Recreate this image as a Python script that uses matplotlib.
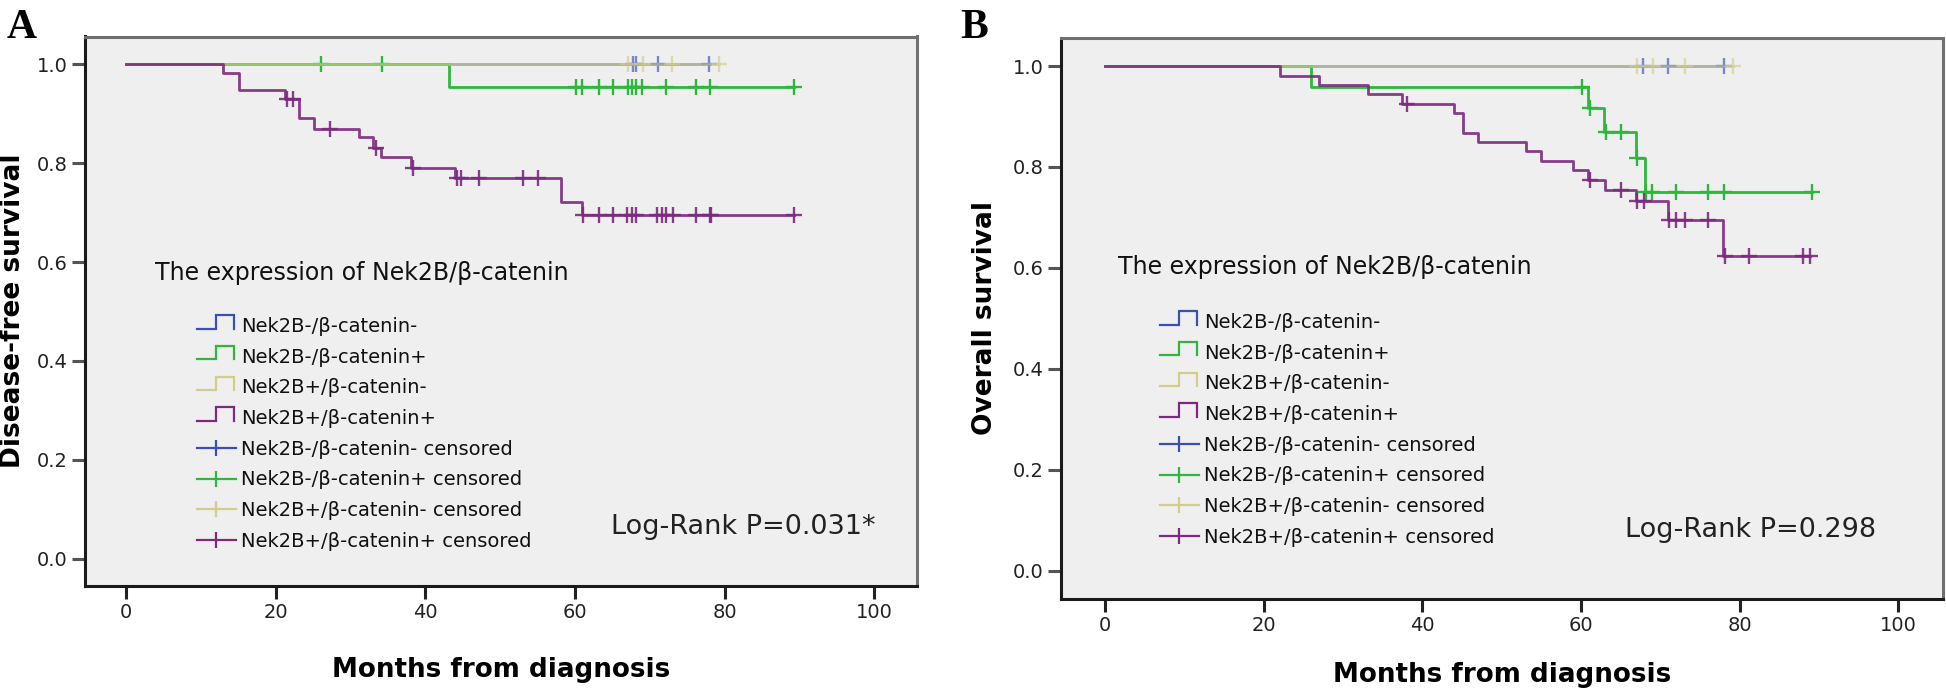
import numpy as np
import matplotlib
matplotlib.use("Agg")
import matplotlib.pyplot as plt
from matplotlib.lines import Line2D
from matplotlib.legend_handler import HandlerBase

# ---------------- data ----------------
group_labels = ["Nek2B-/β-catenin-", "Nek2B-/β-catenin+",
                "Nek2B+/β-catenin-", "Nek2B+/β-catenin+"]
censored_labels = [g + " censored" for g in group_labels]
legend_title = "The expression of Nek2B/β-catenin"
x_ticks = [0, 20, 40, 60, 80, 100]
y_ticks = [0.0, 0.2, 0.4, 0.6, 0.8, 1.0]

# Panel A: disease-free survival (step times / survival / censored times)
dfs_nn_times = [0, 78.0]
dfs_nn_surv = [1.0, 1.0]
dfs_nn_cens = [67.8, 68.2, 71.1, 77.9]
dfs_np_times = [0, 43.1, 89.2]
dfs_np_surv = [1.0, 0.955, 0.955]
dfs_np_cens = [26.1, 34.2, 60.1, 60.9, 63.2, 65.1, 67.1, 67.6, 68.1, 69.0,
               72.1, 76.2, 78.0, 89.2]
dfs_pn_times = [0, 79.2]
dfs_pn_surv = [1.0, 1.0]
dfs_pn_cens = [67.1, 69.1, 73.0, 79.2]
dfs_pp_times = [0, 13.0, 15.1, 21.2, 23.1, 25.1, 31.1, 33.0, 34.1, 38.1,
                44.0, 58.1, 60.9, 89.2]
dfs_pp_surv = [1.0, 0.982, 0.947, 0.929, 0.891, 0.870, 0.852, 0.831, 0.812,
               0.791, 0.771, 0.721, 0.695, 0.695]
dfs_pp_cens = [21.5, 22.3, 27.2, 33.4, 38.3, 44.2, 44.8, 47.1, 53.1, 55.1,
               61.1, 63.2, 65.1, 67.0, 67.6, 68.1, 71.0, 71.6, 72.2, 73.1,
               76.1, 78.0, 78.2, 89.2]
dfs_p_text = "Log-Rank P=0.031*"

# Panel B: overall survival
os_nn_times = [0, 78.0]
os_nn_surv = [1.0, 1.0]
os_nn_cens = [67.8, 71.0, 78.0]
os_np_times = [0, 25.9, 60.9, 62.9, 66.9, 68.0, 89.1]
os_np_surv = [1.0, 0.959, 0.916, 0.869, 0.818, 0.750, 0.750]
os_np_cens = [60.1, 61.1, 63.1, 65.0, 67.1, 68.2, 69.0, 72.0, 76.0, 78.0, 89.1]
os_pn_times = [0, 79.1]
os_pn_surv = [1.0, 1.0]
os_pn_cens = [67.0, 69.1, 73.1, 79.1]
os_pp_times = [0, 22.05, 27.0, 33.1, 37.4, 44.0, 45.1, 47.0, 53.1, 55.0,
               59.0, 60.9, 63.0, 66.9, 70.9, 77.9, 88.9]
os_pp_surv = [1.0, 0.980, 0.962, 0.944, 0.925, 0.906, 0.868, 0.850, 0.832,
              0.812, 0.793, 0.774, 0.754, 0.733, 0.694, 0.624, 0.624]
os_pp_cens = [38.0, 61.1, 65.0, 67.1, 67.9, 71.1, 72.0, 73.1, 76.0, 78.1,
              81.1, 88.0, 88.9]
os_p_text = "Log-Rank P=0.298"

# ---------------- style ----------------
colors = ["#3a4fb5", "#2db83d", "#d2cd8c", "#7b2a7e"]
alphas = [0.65, 1.0, 0.65, 0.9]
draw_order = [0, 2, 1, 3]
W, H = 1946, 695
plt.rcParams["font.family"] = ["DejaVu Sans"]

fig = plt.figure(figsize=(W / 100, H / 100), dpi=100)
fig.patch.set_facecolor("white")


def fx(px):
    return px / W


def fy(py):
    return (H - py) / H


class StepHandler(HandlerBase):
    def create_artists(self, legend, orig_handle, xdescent, ydescent,
                       width, height, fontsize, trans):
        x0 = -xdescent
        yc = -ydescent + height / 2
        lo = yc - 0.25 * height
        hi = yc + 0.72 * height
        xs = [x0, x0 + 0.5 * width, x0 + 0.5 * width, x0 + 0.96 * width,
              x0 + 0.96 * width]
        ys = [lo, lo, hi, hi, lo]
        ln = Line2D(xs, ys, color=orig_handle.get_color(),
                    lw=orig_handle.get_linewidth(), solid_joinstyle="miter")
        ln.set_transform(trans)
        return [ln]


def step_value(times, surv, t):
    idx = np.searchsorted(np.asarray(times), np.asarray(t), side="right") - 1
    return np.asarray(surv)[idx]


def panel(rect_px, series, xlim, ylim, ylabel, xlabel_y, ylabel_x,
          title_px, legend_px, ptext, ptext_px):
    l, t, r, b = rect_px
    ax = fig.add_axes([fx(l), fy(b), fx(r - l), (b - t) / H])
    ax.set_facecolor("#efefef")
    for i in draw_order:
        times, surv, cens = series[i]
        ax.step(times, surv, where="post", color=colors[i], lw=2.0,
                alpha=alphas[i], zorder=2 + i * 0.1)
        ax.plot(cens, step_value(times, surv, cens), ls="none", marker="+",
                ms=11, mew=1.7, color=colors[i], alpha=alphas[i],
                zorder=2.05 + i * 0.1)
    ax.set_xlim(*xlim)
    ax.set_ylim(*ylim)
    ax.set_xticks(x_ticks)
    ax.set_xticklabels([str(v) for v in x_ticks])
    ax.set_yticks(y_ticks)
    ax.set_yticklabels([f"{v:.1f}" for v in y_ticks])
    ax.tick_params(axis="x", direction="out", length=9.5, width=2.2,
                   color="#222222", labelsize=14, pad=3, labelcolor="#222222")
    ax.tick_params(axis="y", direction="out", length=9.5, width=2.2,
                   color="#555555", labelsize=14, pad=3, labelcolor="#222222")
    for s in ("left", "bottom"):
        ax.spines[s].set_color("#1a1a1a")
        ax.spines[s].set_linewidth(2.2)
    for s in ("top", "right"):
        ax.spines[s].set_color("#707070")
        ax.spines[s].set_linewidth(2.2)
    ax.set_xlabel("Months from diagnosis", fontsize=18.8, fontweight="bold",
                  va="center")
    ax.xaxis.set_label_coords(0.5, xlabel_y)
    ax.set_ylabel(ylabel, fontsize=19, fontweight="bold", va="center")
    ax.yaxis.set_label_coords(ylabel_x, 0.5)

    fig.text(fx(title_px[0]), fy(title_px[1]), legend_title, fontsize=17,
             ha="left", va="center", color="#111111")
    step_h = [Line2D([], [], color=c, lw=1.6) for c in colors]
    cens_h = [Line2D([], [], color=c, lw=1.6, marker="|", ms=11, mew=1.6)
              for c in colors]
    hmap = {h: StepHandler() for h in step_h}
    leg = ax.legend(step_h + cens_h, group_labels + censored_labels,
                    handler_map=hmap, loc="upper left",
                    bbox_to_anchor=(fx(legend_px[0]), fy(legend_px[1])),
                    bbox_transform=fig.transFigure, frameon=False,
                    fontsize=14, numpoints=1, handlelength=2.0,
                    handletextpad=0.25, labelspacing=0.60, borderpad=0,
                    borderaxespad=0)
    for txt in leg.get_texts():
        txt.set_color("#111111")
    fig.text(fx(ptext_px[0]), fy(ptext_px[1]), ptext, fontsize=19.5,
             ha="left", va="center", color="#222222")
    return ax


series_a = [(dfs_nn_times, dfs_nn_surv, dfs_nn_cens),
            (dfs_np_times, dfs_np_surv, dfs_np_cens),
            (dfs_pn_times, dfs_pn_surv, dfs_pn_cens),
            (dfs_pp_times, dfs_pp_surv, dfs_pp_cens)]
series_b = [(os_nn_times, os_nn_surv, os_nn_cens),
            (os_np_times, os_np_surv, os_np_cens),
            (os_pn_times, os_pn_surv, os_pn_cens),
            (os_pp_times, os_pp_surv, os_pp_cens)]

panel((85, 36.5, 916.7, 586), series_a, (-5.48, 105.64), (-0.0552, 1.0562),
      "Disease-free survival", -0.1529, -0.0866,
      (155, 273), (197, 317), dfs_p_text, (610.7, 526.7))
panel((1061, 37.7, 1943.3, 599), series_b, (-5.545, 105.65), (-0.0561, 1.0561),
      "Overall survival", -0.1354, -0.0861,
      (1117.7, 266.7), (1160, 313), os_p_text, (1625, 530))

fig.text(fx(7), fy(38), "A", fontsize=30, fontweight="bold",
         family="Liberation Serif", ha="left", va="baseline")
fig.text(fx(960), fy(38), "B", fontsize=30, fontweight="bold",
         family="Liberation Serif", ha="left", va="baseline")

fig.savefig("out.png", dpi=100)
